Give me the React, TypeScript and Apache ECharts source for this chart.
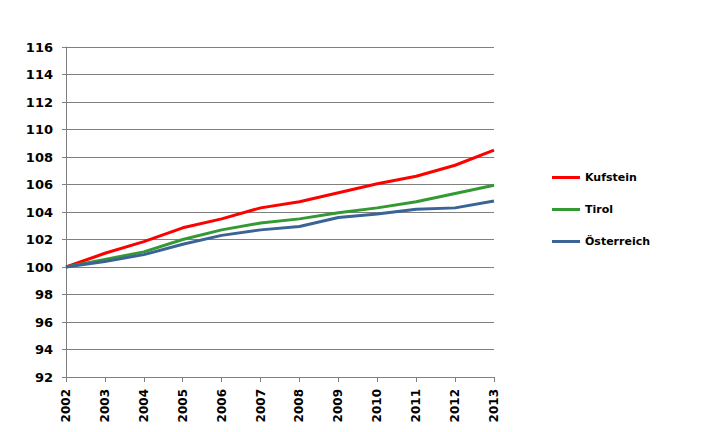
import React, { useEffect, useRef } from "react";
import * as echarts from "echarts";

const years = ["2002", "2003", "2004", "2005", "2006", "2007", "2008", "2009", "2010", "2011", "2012", "2013"];
const kufstein = [100, 101.0, 101.85, 102.85, 103.5, 104.3, 104.75, 105.4, 106.05, 106.6, 107.4, 108.5];
const tirol = [100, 100.55, 101.1, 102.0, 102.7, 103.2, 103.5, 103.95, 104.3, 104.75, 105.35, 105.95];
const oesterreich = [100, 100.4, 100.9, 101.65, 102.3, 102.7, 102.95, 103.6, 103.85, 104.2, 104.3, 104.8];
const yTicks = { min: 92, max: 116, interval: 2 };

const FONT = "'DejaVu Sans', Verdana, sans-serif";

export default function App() {
  const ref = useRef<HTMLDivElement>(null);
  useEffect(() => {
    if (!ref.current) return;
    const chart = echarts.init(ref.current, null, { renderer: "svg" });
    const mk = (name: string, data: number[], color: string) => ({
      name,
      type: "line",
      data,
      symbol: "none",
      lineStyle: { width: 3, color },
      itemStyle: { color },
    });
    chart.setOption({
      animation: false,
      backgroundColor: "#ffffff",
      grid: { left: 66, right: 220, top: 47, bottom: 55, containLabel: false },
      legend: {
        orient: "vertical",
        left: 552,
        top: 172,
        padding: 0,
        itemWidth: 28,
        itemHeight: 3,
        itemGap: 21,
        icon: "rect",
        textStyle: { fontFamily: FONT, fontWeight: "bold", fontSize: 11, color: "#000" },
        data: ["Kufstein", "Tirol", "Österreich"],
      },
      xAxis: {
        type: "category",
        data: years,
        boundaryGap: false,
        axisLine: { lineStyle: { color: "#808080", width: 1 } },
        axisTick: { show: true, length: 5, lineStyle: { color: "#808080" }, alignWithLabel: true },
        axisLabel: { rotate: 90, margin: 12, fontFamily: FONT, fontWeight: "bold", fontSize: 12, color: "#000", interval: 0 },
        splitLine: { show: false },
      },
      yAxis: {
        type: "value",
        min: yTicks.min,
        max: yTicks.max,
        interval: yTicks.interval,
        axisLine: { show: true, lineStyle: { color: "#808080", width: 1 } },
        axisTick: { show: true, length: 4, lineStyle: { color: "#808080" } },
        axisLabel: { margin: 13, fontFamily: FONT, fontWeight: "bold", fontSize: 13, color: "#000" },
        splitLine: { show: true, lineStyle: { color: "#808080", width: 1 } },
      },
      series: [
        mk("Kufstein", kufstein, "#ff0000"),
        mk("Tirol", tirol, "#339933"),
        mk("Österreich", oesterreich, "#3b6496"),
      ],
    });
    return () => chart.dispose();
  }, []);
  return <div ref={ref} style={{ width: 714, height: 432, position: "absolute", left: 0, top: 0 }} />;
}
